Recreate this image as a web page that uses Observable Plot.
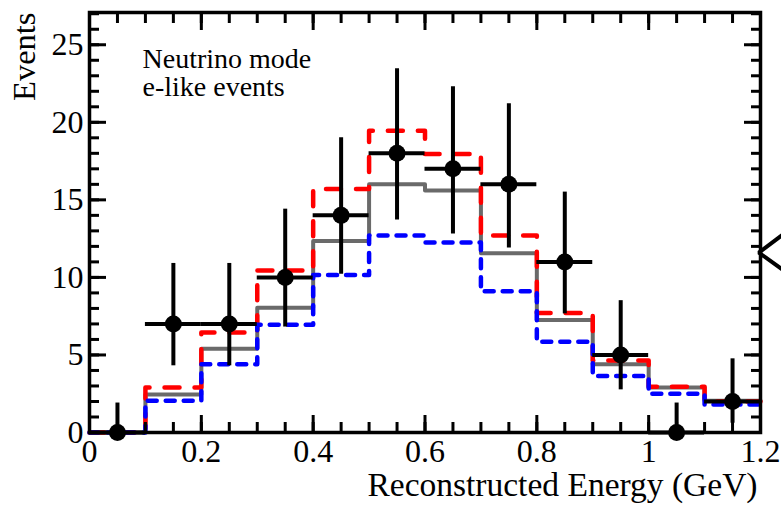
<!DOCTYPE html>
<html><head><meta charset="utf-8">
<script src="https://cdn.jsdelivr.net/npm/d3@7"></script>
<script src="https://cdn.jsdelivr.net/npm/@observablehq/plot@0.6"></script>
<style>body{margin:0;background:#fff;} #chart svg{display:block;}</style>
</head><body><div id="chart"></div>
<script>
const binEdges   = [0, 0.1, 0.2, 0.3, 0.4, 0.5, 0.6, 0.7, 0.8, 0.9, 1.0, 1.1, 1.2];
const binCenters = [0.05, 0.15, 0.25, 0.35, 0.45, 0.55, 0.65, 0.75, 0.85, 0.95, 1.05, 1.15];
const observed   = [0, 7, 7, 10, 14, 18, 17, 16, 11, 5, 0, 2];
const errLow     = [0, 4.3, 4.3, 6.8, 10.2, 13.7, 12.8, 11.9, 7.65, 2.75, 0, 0.6];
const errHigh    = [1.9, 10.9, 10.9, 14.4, 19.0, 23.45, 22.3, 21.2, 15.5, 8.5, 1.9, 4.75];
const predGray   = [0, 2.45, 5.4, 8.05, 12.35, 16.0, 15.6, 11.55, 7.25, 4.4, 2.9, 2.05];
const predRed    = [0, 2.9, 6.45, 10.45, 15.7, 19.45, 17.95, 12.7, 7.7, 4.65, 2.95, 2.0];
const predBlue   = [0, 2.05, 4.4, 6.95, 10.15, 12.7, 12.25, 9.1, 5.85, 3.65, 2.5, 1.8];
const arrowX     = [1.2375, 1.197, 1.2375];
const arrowY     = [12.7, 11.6, 10.55];
const xTicks     = [0, 0.2, 0.4, 0.6, 0.8, 1, 1.2];
const xTickLabels = ["0", "0.2", "0.4", "0.6", "0.8", "1", "1.2"];
const yTicks     = [0, 5, 10, 15, 20, 25];
const xMinor     = d3.range(0, 25).map(i => +(i * 0.05).toFixed(2));
const yMinor     = d3.range(0, 28);
const xLabel = "Reconstructed Energy (GeV)";
const yLabel = "Events";
const annotation = "Neutrino mode\ne-like events";

const stepData = vals => binEdges.map((e, i) => ({x: e, y: vals[Math.min(i, vals.length - 1)]}));
const points = binCenters.map((c, i) => ({
  x: c, y: observed[i], lo: errLow[i], hi: errHigh[i], x1: binEdges[i], x2: binEdges[i + 1]
}));
const arrow = arrowX.map((x, i) => ({x, y: arrowY[i]}));

const font = "Liberation Serif";
const tickW = 3;

const chart = Plot.plot({
  width: 781,
  height: 505,
  marginLeft: 89,
  marginRight: 21,
  marginTop: 12,
  marginBottom: 73,
  x: {domain: [0, 1.2], axis: null},
  y: {domain: [0, 27.08], axis: null},
  style: {fontFamily: font, fontSize: "32px", color: "black", background: "white", overflow: "visible"},
  marks: [
    Plot.line(stepData(predGray), {x: "x", y: "y", curve: "step-after", stroke: "#6a6a6a", strokeWidth: 4}),
    Plot.line(stepData(predRed), {x: "x", y: "y", curve: "step-after", stroke: "#ff0000", strokeWidth: 4.5, strokeDasharray: "15,15"}),
    Plot.line(stepData(predBlue), {x: "x", y: "y", curve: "step-after", stroke: "#0000ff", strokeWidth: 4.5, strokeDasharray: "9,9"}),
    Plot.ruleY(points, {y: "y", x1: "x1", x2: "x2", stroke: "black", strokeWidth: 4}),
    Plot.ruleX(points, {x: "x", y1: "lo", y2: "hi", stroke: "black", strokeWidth: 4}),
    Plot.dot(points, {x: "x", y: "y", r: 8.5, fill: "black", stroke: "none"}),
    Plot.line(arrow, {x: "x", y: "y", stroke: "black", strokeWidth: 4, strokeLinejoin: "miter"}),
    Plot.axisX(xTicks, {anchor: "bottom", tickSize: -17, strokeWidth: tickW, tickPadding: 24, fontSize: 32, label: null,
      tickFormat: d => xTickLabels[xTicks.indexOf(d)]}),
    Plot.axisX(xMinor, {anchor: "bottom", tickSize: -10, strokeWidth: tickW, fill: "none", label: null}),
    Plot.axisX(xTicks, {anchor: "top", tickSize: -17, strokeWidth: tickW, fill: "none", label: null}),
    Plot.axisX(xMinor, {anchor: "top", tickSize: -10, strokeWidth: tickW, fill: "none", label: null}),
    Plot.axisY(yTicks, {anchor: "left", tickSize: -17, strokeWidth: tickW, tickPadding: 23, fontSize: 32, label: null}),
    Plot.axisY(yMinor, {anchor: "left", tickSize: -10, strokeWidth: tickW, fill: "none", label: null}),
    Plot.axisY(yTicks, {anchor: "right", tickSize: -17, strokeWidth: tickW, fill: "none", label: null}),
    Plot.axisY(yMinor, {anchor: "right", tickSize: -10, strokeWidth: tickW, fill: "none", label: null}),
    Plot.frame({stroke: "black", strokeWidth: 3.5}),
    Plot.text([xLabel], {text: d => d, frameAnchor: "bottom-right", textAnchor: "end", lineAnchor: "bottom", dx: -3, dy: 63, fontSize: 33.5, fill: "black"}),
    Plot.text([yLabel], {text: d => d, frameAnchor: "top-left", textAnchor: "end", lineAnchor: "middle", rotate: -90, dx: -65, dy: 0, fontSize: 32.5, fill: "black"}),
    Plot.text([annotation], {text: d => d, frameAnchor: "top-left", textAnchor: "start", lineAnchor: "top", dx: 53, dy: 35.5, fontSize: 28, lineHeight: 1.0, fill: "black"})
  ]
});
document.getElementById("chart").appendChild(chart);
</script>
</body></html>
